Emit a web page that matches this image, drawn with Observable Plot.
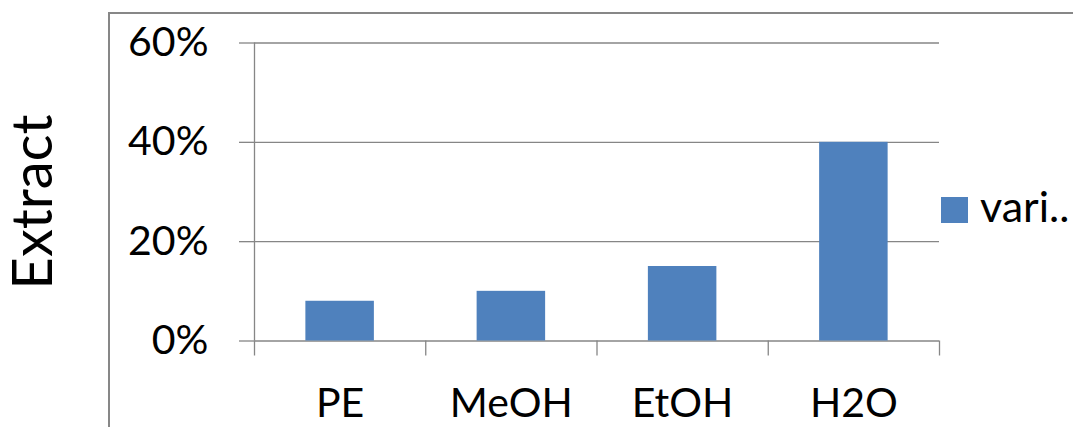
<!DOCTYPE html>
<html>
<head>
<meta charset="utf-8">
<script src="https://cdn.jsdelivr.net/npm/d3@7"></script>
<script src="https://cdn.jsdelivr.net/npm/@observablehq/plot@0.6"></script>
<style>
  html, body { margin: 0; padding: 0; background: #fff; }
  #chart { position: relative; width: 1073px; height: 427px; overflow: hidden; font-family: Lato, "Open Sans", sans-serif; }
  #chart svg { position: absolute; left: 0; top: 0; }
  /* outer chart-area border (only its left and top edges are in view) */
  #border { position: absolute; left: 108px; top: 12px; right: -4px; bottom: -4px; border-left: 2px solid #878787; border-top: 2px solid #878787; pointer-events: none; }
  #legend { position: absolute; left: 941px; top: 197px; width: 132px; height: 30px; color: #000; }
  #legend .swatch { position: absolute; left: 0; top: 0; width: 27px; height: 26px; }
  #legend .name { position: absolute; left: 39px; top: -13px; font-size: 43px; line-height: 43px; white-space: nowrap; }
</style>
</head>
<body>
<div id="chart"><div id="border"></div></div>
<script>
// Extract yield per solvent
const solvents = ["PE", "MeOH", "EtOH", "H2O"];
const extractYield = [0.08, 0.10, 0.15, 0.40];
const yTicks = [0, 0.2, 0.4, 0.6];
const seriesName = "vari..";
const barColor = "#4F81BD";
const gridColor = "#868686";

const rows = solvents.map((s, i) => ({solvent: s, value: extractYield[i], i}));
const bounds = d3.range(solvents.length + 1);
const centers = solvents.map((s, i) => i + 0.5);

const plot = Plot.plot({
  width: 1073,
  height: 427,
  marginLeft: 254,
  marginRight: 134,
  marginTop: 42.5,
  marginBottom: 86.5,
  style: {fontFamily: "Lato, 'Open Sans', sans-serif", fontSize: "41px", color: "#000", background: "transparent"},
  x: {domain: [0, solvents.length]},
  y: {domain: [0, 0.6]},
  marks: [
    Plot.gridY(yTicks, {stroke: gridColor, strokeOpacity: 1, strokeWidth: 1.3}),
    Plot.ruleX([0], {stroke: gridColor, strokeWidth: 1.3}),
    Plot.axisY({ticks: yTicks, tickFormat: d3.format(".0%"), tickSize: 15, tickPadding: 31,
                stroke: gridColor, strokeOpacity: 1, strokeWidth: 1.3, fill: "#000", label: null}),
    // boundary ticks between categories
    Plot.axisX({ticks: bounds, tickSize: 15, tickFormat: () => "", stroke: gridColor,
                strokeOpacity: 1, strokeWidth: 1.3, label: null}),
    // category names centred in each slot
    Plot.axisX({ticks: centers, tickSize: 0, tickPadding: 47, fill: "#000",
                tickFormat: d => solvents[Math.floor(d)], label: null}),
    Plot.rectY(rows, {x1: d => d.i + 0.3, x2: d => d.i + 0.7, y: "value", fill: barColor}),
    Plot.text(["Extract"], {frameAnchor: "left", textAnchor: "middle", lineAnchor: "middle",
                            dx: -220, dy: 10, rotate: -90, fontSize: 56, fill: "#000", text: d => d})
  ]
});

document.getElementById("chart").appendChild(plot);

const legend = document.createElement("div");
legend.id = "legend";
legend.innerHTML = `<span class="swatch" style="background:${barColor}"></span><span class="name">${seriesName}</span>`;
document.getElementById("chart").appendChild(legend);
</script>
</body>
</html>
